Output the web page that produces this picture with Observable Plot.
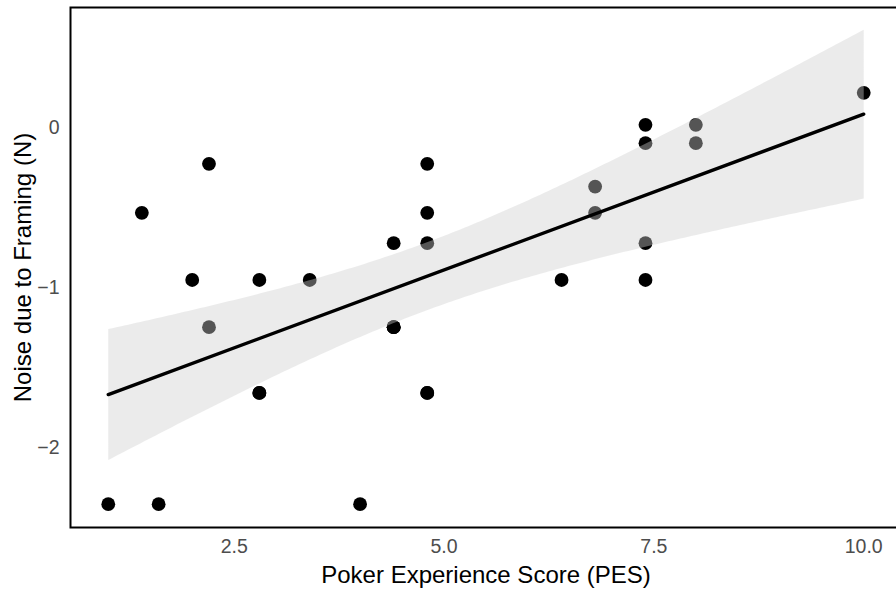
<!DOCTYPE html>
<html>
<head>
<meta charset="utf-8">
<script src="https://cdn.jsdelivr.net/npm/d3@7"></script>
<script src="https://cdn.jsdelivr.net/npm/@observablehq/plot@0.6"></script>
<style>
  html, body { margin: 0; padding: 0; background: #ffffff; }
  #chart { width: 896px; height: 589px; overflow: hidden; }
</style>
</head>
<body>
<div id="chart"></div>
<script>
// Poker Experience Score (x) and Noise due to Framing (y).
// The last four pairs sit exactly on top of visible points (hidden overlaps implied by the fitted line).
const pes = [1.0, 1.4, 1.6, 2.0, 2.2, 2.2, 2.8, 2.8, 3.4, 4.0, 4.4, 4.4,
             4.8, 4.8, 4.8, 4.8, 6.4, 6.8, 6.8, 7.4, 7.4, 7.4, 7.4, 8.0, 8.0, 10.0,
             2.8, 4.8, 4.4, 4.4];
const noise = [-2.354, -0.533, -2.354, -0.953, -0.227, -1.248, -0.953, -1.659, -0.953, -2.354, -0.723, -1.248,
               -0.227, -0.533, -0.723, -1.659, -0.953, -0.369, -0.533, 0.017, -0.098, -0.723, -0.953, 0.017, -0.098, 0.217,
               -1.659, -1.659, -1.248, -1.248];
const xTicks = [2.5, 5.0, 7.5, 10.0];
const yTicks = [-2, -1, 0];
const xLabel = "Poker Experience Score (PES)";
const yLabel = "Noise due to Framing (N)";

const data = pes.map((x, i) => ({x, y: noise[i]}));

const chart = Plot.plot({
  width: 896,
  height: 589,
  marginLeft: 70,
  marginRight: -5,
  marginTop: 7,
  marginBottom: 62,
  style: {fontFamily: "'Liberation Sans', Arial, sans-serif", fontSize: "19px", color: "black", background: "white"},
  x: {domain: [0.55, 10.45]},
  y: {domain: [-2.5, 0.75]},
  marks: [
    Plot.dot(data, {x: "x", y: "y", r: 6.9, fill: "black", stroke: "none"}),
    Plot.linearRegressionY(data, {x: "x", y: "y", ci: 0.95, stroke: "black", strokeWidth: 3.4, fill: "#cfcfcf", fillOpacity: 0.41}),
    Plot.frame({stroke: "black", strokeWidth: 2}),
    Plot.axisX(xTicks, {tickSize: 0, tickPadding: 12, tickFormat: d => d.toFixed(1), fill: "#4d4d4d", fontSize: 19.5, label: null}),
    Plot.axisY(yTicks, {tickSize: 0, tickPadding: 11, tickFormat: d => d === 0 ? "0" : "\u2212" + Math.abs(d), fill: "#4d4d4d", fontSize: 19.5, label: null}),
    Plot.text([xLabel], {frameAnchor: "bottom", dy: 48, textAnchor: "middle", lineAnchor: "middle", fontSize: 24, fill: "black", text: d => d}),
    Plot.text([yLabel], {frameAnchor: "left", dx: -47, rotate: -90, textAnchor: "middle", lineAnchor: "middle", fontSize: 24, fill: "black", text: d => d})
  ]
});
document.getElementById("chart").appendChild(chart);
</script>
</body>
</html>
